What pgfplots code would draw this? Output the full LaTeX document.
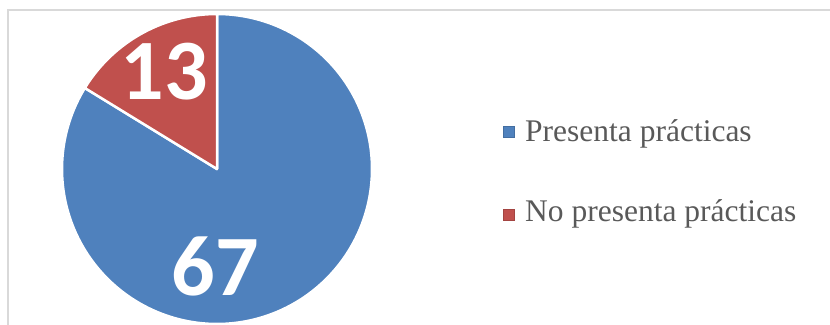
\documentclass[border=0pt]{standalone}
\usepackage{pgfplots}
\usepackage{pgfplotstable}
\pgfplotsset{compat=1.18}
\usepackage{fontspec}
\setmainfont{Liberation Serif}
\newfontfamily\numfont{Carlito}
\definecolor{pieblue}{HTML}{4F81BD}
\definecolor{piered}{HTML}{C0504D}
\definecolor{legtext}{HTML}{595959}
\definecolor{framecol}{HTML}{D9D9D9}
\pgfplotstableread{
label value
Presenta 67
NoPresenta 13
}\piedata
\begin{document}
\begin{tikzpicture}
\pgfplotstablegetelem{0}{value}\of\piedata \edef\va{\pgfplotsretval}
\pgfplotstablegetelem{1}{value}\of\piedata \edef\vb{\pgfplotsretval}
\pgfmathsetmacro\tot{\va+\vb}
\pgfmathsetmacro\aStart{90-360*(\va/\tot)}
\pgfmathsetmacro\bEnd{90+360*(\vb/\tot)}
\begin{axis}[at={(0,0)}, anchor=south west, scale only axis,
  width=830bp, height=325bp, xmin=0, xmax=830, ymin=0, ymax=325,
  hide axis, clip=true]
\addplot[framecol, line width=1.5bp] coordinates {(8,-10) (8,315) (840,315)};
\addplot[fill=pieblue, draw=white, line width=2.5bp, line join=round,
  domain=\aStart:90, samples=241, variable=\t]
  ({217+155*cos(\t)},{156+155*sin(\t)}) -- (axis cs:217,156) -- cycle;
\addplot[fill=piered, draw=white, line width=2.5bp, line join=round,
  domain=90:\bEnd, samples=61, variable=\t]
  ({217+155*cos(\t)},{156+155*sin(\t)}) -- (axis cs:217,156) -- cycle;
\addplot[only marks, mark=square*, mark size=5.5bp,
  mark options={fill=pieblue, draw=pieblue!85!black, line width=0.4bp}]
  coordinates {(509,193)};
\addplot[only marks, mark=square*, mark size=5.5bp,
  mark options={fill=piered, draw=piered!85!black, line width=0.4bp}]
  coordinates {(509,110)};
\node[text=white, inner sep=0, font=\numfont\bfseries\fontsize{86bp}{90bp}\selectfont]
  at (axis cs:164.5,253) {\vb};
\node[text=white, inner sep=0, font=\numfont\bfseries\fontsize{86bp}{90bp}\selectfont]
  at (axis cs:215.5,59) {\va};
\node[anchor=base west, inner sep=0, text=legtext, font=\fontsize{31.5bp}{36bp}\selectfont]
  at (axis cs:525,183) {Presenta prácticas};
\node[anchor=base west, inner sep=0, text=legtext, font=\fontsize{31.5bp}{36bp}\selectfont]
  at (axis cs:525,103) {No presenta prácticas};
\end{axis}
\pgfresetboundingbox
\path (0,0) rectangle (830bp,325bp);
\end{tikzpicture}
\end{document}
